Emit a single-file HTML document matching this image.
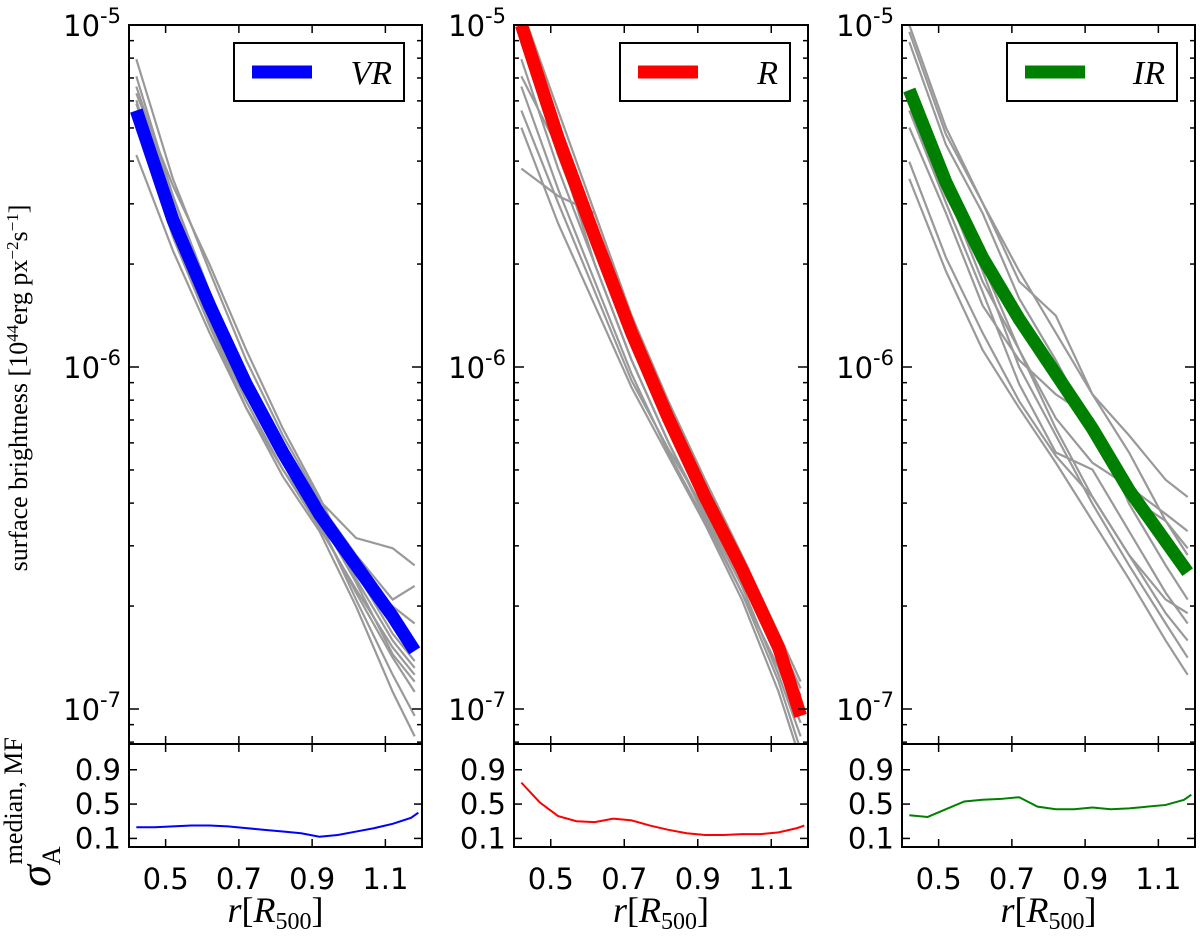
<!DOCTYPE html>
<html><head><meta charset="utf-8"><style>
body{margin:0;background:#fff}
svg text{font-family:"DejaVu Sans","Liberation Sans",sans-serif}
.serif{font-family:"Liberation Serif",serif}
</style></head><body>
<svg id="fig" width="1200" height="939" viewBox="0 0 1200 939" xmlns="http://www.w3.org/2000/svg">
<text class="serif" transform="translate(27,388) rotate(-90)" text-anchor="middle" font-size="26">surface brightness [10<tspan baseline-shift="super" font-size="17">44</tspan>erg px<tspan baseline-shift="super" font-size="17">−2</tspan>s<tspan baseline-shift="super" font-size="17">−1</tspan>]</text>
<text class="serif" transform="translate(50,812) rotate(-90)" text-anchor="middle" font-size="44" font-style="italic">σ<tspan font-size="26" dy="10" font-style="normal">A</tspan><tspan font-size="26" dy="-38" dx="-18" font-style="normal">median, MF</tspan></text>
</svg>
<script>
const rGrid=[0.42,0.52,0.62,0.72,0.82,0.92,1.02,1.12,1.18];
const medianVR=[-5.25,-5.57,-5.82,-6.05,-6.25,-6.43,-6.58,-6.73,-6.83];
const medianR=[-5.0,-5.33,-5.62,-5.90,-6.15,-6.38,-6.59,-6.82,-7.02];
const medianIR=[-5.19,-5.46,-5.68,-5.86,-6.02,-6.18,-6.36,-6.51,-6.60];
const grayVR=[
[-5.10,-5.45,-5.72,-5.98,-6.20,-6.39,-6.50,-6.53,-6.58],
[-5.15,-5.50,-5.78,-6.02,-6.22,-6.40,-6.55,-6.68,-6.64],
[-5.18,-5.50,-5.80,-6.05,-6.26,-6.43,-6.60,-6.70,-6.75],
[-5.22,-5.58,-5.85,-6.08,-6.28,-6.46,-6.66,-6.85,-6.95],
[-5.25,-5.60,-5.87,-6.10,-6.30,-6.45,-6.68,-6.90,-7.02],
[-5.28,-5.62,-5.88,-6.12,-6.30,-6.47,-6.65,-6.82,-6.90],
[-5.30,-5.60,-5.85,-6.08,-6.28,-6.42,-6.62,-6.80,-6.88],
[-5.38,-5.66,-5.90,-6.12,-6.32,-6.48,-6.70,-6.95,-7.08],
[-5.20,-5.47,-5.70,-5.95,-6.18,-6.38,-6.60,-6.78,-6.86],
[-5.23,-5.55,-5.83,-6.07,-6.27,-6.44,-6.63,-6.84,-6.92]];
const grayR=[
[-4.95,-5.25,-5.55,-5.85,-6.10,-6.33,-6.55,-6.78,-6.92],
[-4.98,-5.30,-5.60,-5.88,-6.14,-6.36,-6.58,-6.82,-6.98],
[-5.05,-5.38,-5.66,-5.94,-6.18,-6.40,-6.62,-6.86,-7.02],
[-5.10,-5.42,-5.70,-5.98,-6.22,-6.43,-6.64,-6.90,-7.08],
[-5.18,-5.48,-5.75,-6.02,-6.25,-6.45,-6.66,-6.92,-7.12],
[-5.25,-5.52,-5.78,-6.04,-6.24,-6.42,-6.62,-6.84,-6.96],
[-5.42,-5.50,-5.55,-5.85,-6.12,-6.36,-6.58,-6.80,-6.94],
[-5.15,-5.36,-5.70,-5.98,-6.22,-6.44,-6.66,-6.88,-7.04],
[-5.02,-5.33,-5.63,-5.92,-6.16,-6.38,-6.60,-6.83,-6.99],
[-5.30,-5.58,-5.82,-6.06,-6.26,-6.46,-6.68,-6.95,-7.15]];
const grayIR=[
[-5.00,-5.30,-5.52,-5.72,-5.90,-6.08,-6.20,-6.33,-6.38],
[-5.02,-5.32,-5.52,-5.75,-5.85,-6.08,-6.25,-6.45,-6.53],
[-5.05,-5.35,-5.55,-5.80,-5.98,-6.18,-6.38,-6.45,-6.55],
[-5.25,-5.50,-5.70,-5.95,-6.15,-6.28,-6.35,-6.43,-6.48],
[-5.30,-5.55,-5.82,-5.98,-6.08,-6.15,-6.40,-6.58,-6.68],
[-5.45,-5.72,-5.95,-6.12,-6.28,-6.45,-6.62,-6.80,-6.90],
[-5.40,-5.68,-5.90,-6.10,-6.26,-6.38,-6.55,-6.72,-6.80],
[-5.22,-5.45,-5.72,-6.00,-6.20,-6.40,-6.58,-6.75,-6.85],
[-5.25,-5.52,-5.78,-6.05,-6.25,-6.30,-6.48,-6.66,-6.75],
[-5.20,-5.48,-5.75,-5.95,-6.18,-6.38,-6.55,-6.68,-6.72]];
const rSigma=[0.42,0.47,0.52,0.57,0.62,0.67,0.72,0.77,0.82,0.87,0.92,0.97,1.02,1.07,1.12,1.17,1.19];
const sigmaVR=[0.23,0.23,0.24,0.25,0.25,0.24,0.22,0.20,0.18,0.16,0.12,0.14,0.18,0.22,0.27,0.34,0.40];
const sigmaR=[0.75,0.52,0.36,0.30,0.29,0.33,0.31,0.25,0.20,0.16,0.14,0.14,0.15,0.15,0.17,0.22,0.25];
const sigmaIR=[0.37,0.35,0.44,0.53,0.55,0.56,0.58,0.47,0.44,0.44,0.46,0.44,0.45,0.47,0.49,0.55,0.61];
const xTicks=[0.5,0.7,0.9,1.1];
const xTickLabels=["0.5","0.7","0.9","1.1"];
const sTicks=[0.1,0.5,0.9];
const sTickLabels=["0.1","0.5","0.9"];
const decades=[-5,-6,-7];
const legendLabels=["VR","R","IR"];

const NS="http://www.w3.org/2000/svg";
const svg=document.getElementById('fig');
function el(tag,attrs,parent){const e=document.createElementNS(NS,tag);for(const k in attrs)e.setAttribute(k,attrs[k]);(parent||svg).appendChild(e);return e;}
const panels=[{x0:129,x1:422,med:medianVR,gray:grayVR,sig:sigmaVR,col:"#0000ff",name:"vr"},
{x0:514,x1:808,med:medianR,gray:grayR,sig:sigmaR,col:"#ff0000",name:"r"},
{x0:902,x1:1195,med:medianIR,gray:grayIR,sig:sigmaIR,col:"#008000",name:"ir"}];
const Y0=25,Y1=744,Y2=847;
const yLog=v=>Y0+(-5-v)*342;
const ySig=v=>Y2-v*(Y2-Y1)/1.2;
panels.forEach((p,i)=>{
  const xs=r=>p.x0+(r-0.4)/0.8*(p.x1-p.x0);
  const g=el('g',{});
  
  
  const cp=el('clipPath',{id:'c'+i},g);
  el('rect',{x:p.x0,y:Y0,width:p.x1-p.x0,height:Y1-Y0},cp);
  const cg=el('g',{'clip-path':'url(#c'+i+')'},g);
  p.gray.forEach((arr,j)=>{
    const pl=el('polyline',{points:arr.map((v,k)=>xs(rGrid[k])+','+yLog(v)).join(' '),fill:'none',stroke:'#999',"stroke-width":2.2},cg);
    
    
  });
  const m=el('polyline',{points:p.med.map((v,k)=>xs(rGrid[k])+','+yLog(v)).join(' '),fill:'none',stroke:p.col,"stroke-width":13,"stroke-linejoin":"round"},cg);
  
  
  const s=el('polyline',{points:p.sig.map((v,k)=>xs(rSigma[k])+','+ySig(v)).join(' '),fill:'none',stroke:p.col,"stroke-width":2},g);
  
  
  el('rect',{x:p.x0,y:Y0,width:p.x1-p.x0,height:Y2-Y0,fill:'none',stroke:'#000',"stroke-width":2},g);
  el('line',{x1:p.x0,x2:p.x1,y1:Y1,y2:Y1,stroke:'#000',"stroke-width":2},g);
  xTicks.forEach((t,k)=>{
    const x=xs(t);
    [[Y0,Y0+8],[Y1,Y1-8],[Y1,Y1+8],[Y2,Y2-8]].forEach(a=>el('line',{x1:x,x2:x,y1:a[0],y2:a[1],stroke:'#000',"stroke-width":1.5},g));
    const tl=el('text',{x:x,y:Y2+42,"text-anchor":"middle","font-size":29},g);
    tl.textContent=xTickLabels[k];
    
    
  });
  for(let d=-8;d<=-5;d++){
    for(let m2=1;m2<=9;m2++){
      const v=d+Math.log10(m2);const y=yLog(v);
      if(y<Y0-0.5||y>Y1)continue;
      const len=m2===1?10:5;
      el('line',{x1:p.x0,x2:p.x0+len,y1:y,y2:y,stroke:'#000',"stroke-width":1.5},g);
      el('line',{x1:p.x1,x2:p.x1-len,y1:y,y2:y,stroke:'#000',"stroke-width":1.5},g);
    }
  }
  decades.forEach(d=>{
    const tl=el('text',{x:p.x0-8,y:yLog(d)+11,"text-anchor":"end","font-size":29},g);
    tl.innerHTML='10<tspan font-size="21" dy="-13">'+d+'</tspan>';
    
    
  });
  sTicks.forEach((t,k)=>{
    const y=ySig(t);
    el('line',{x1:p.x0,x2:p.x0+8,y1:y,y2:y,stroke:'#000',"stroke-width":1.5},g);
    el('line',{x1:p.x1,x2:p.x1-8,y1:y,y2:y,stroke:'#000',"stroke-width":1.5},g);
    const tl=el('text',{x:p.x0-8,y:y+10,"text-anchor":"end","font-size":29},g);
    tl.textContent=sTickLabels[k];
    
    
  });
  const xl=el('text',{x:(p.x0+p.x1)/2,y:922,"text-anchor":"middle","font-size":36,"class":"serif"},g);
  xl.innerHTML='<tspan font-style="italic">r</tspan>[<tspan font-style="italic">R</tspan><tspan font-size="24" dy="7">500</tspan><tspan dy="-7">]</tspan>';
  
  
  const lg=el('g',{},g);
  
  
  el('rect',{x:p.x1-188,y:43,width:170,height:58,fill:'#fff',stroke:'#000',"stroke-width":2},lg);
  el('line',{x1:p.x1-170,x2:p.x1-110,y1:72,y2:72,stroke:p.col,"stroke-width":13},lg);
  const lt=el('text',{x:p.x1-30,y:84,"text-anchor":"end","font-size":34,"font-style":"italic","class":"serif"},lg);
  lt.textContent=legendLabels[i];
});
</script>
</body></html>
